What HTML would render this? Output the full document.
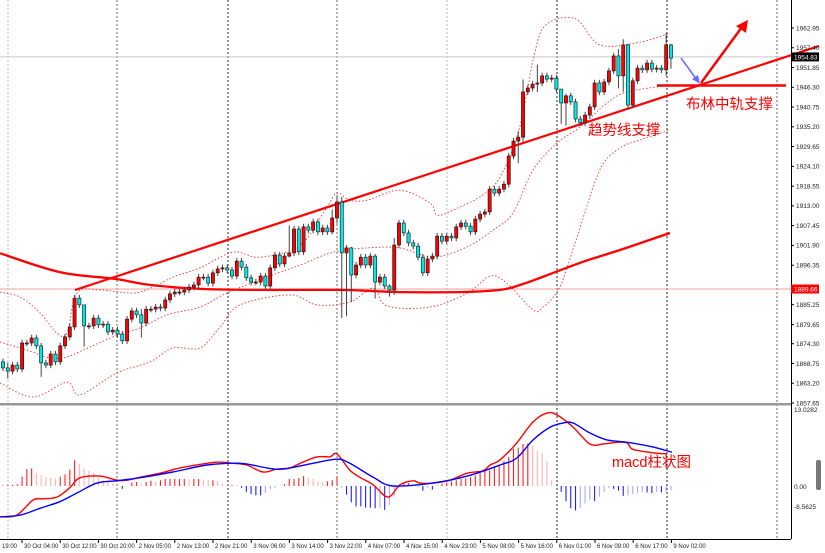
<!DOCTYPE html>
<html><head><meta charset="utf-8">
<style>
html,body{margin:0;padding:0;background:#fff;}
svg{display:block;font-family:"Liberation Sans","Noto Sans CJK SC",sans-serif;}
</style></head>
<body>
<svg id="chart" width="825" height="553" viewBox="0 0 825 553" xmlns="http://www.w3.org/2000/svg">
<rect x="0" y="0" width="825" height="553" fill="#fff"/>
</svg>
<script>
// ===== data =====
const closes = [1867.5,1866.6,1868.3,1867.2,1874.5,1874.5,1875.9,1873.7,1868.9,1868.3,1871.4,1869.2,1873.7,1876.2,1879.0,1887.1,1885.2,1879.3,1879.3,1881.5,1879.6,1879.8,1877.6,1878.1,1877.0,1875.1,1881.2,1883.5,1882.4,1880.1,1884.0,1884.0,1884.6,1884.3,1886.6,1888.3,1888.8,1888.8,1889.4,1890.2,1890.8,1893.0,1893.0,1891.3,1894.2,1895.3,1895.6,1895.0,1893.3,1897.5,1895.8,1892.8,1891.6,1891.6,1893.3,1890.5,1895.6,1899.2,1896.7,1898.9,1899.8,1906.5,1900.1,1907.1,1906.2,1908.5,1905.7,1906.8,1905.7,1909.6,1914.1,1899.8,1901.2,1893.6,1896.4,1898.6,1896.4,1898.9,1891.6,1893.0,1890.5,1889.4,1902.0,1908.2,1905.4,1902.6,1901.7,1898.6,1894.2,1898.1,1898.9,1904.5,1903.1,1904.5,1904.0,1907.1,1908.2,1907.3,1905.7,1909.3,1910.7,1911.3,1917.7,1916.6,1917.7,1919.1,1927.0,1931.2,1932.3,1945.0,1946.1,1947.2,1947.5,1949.5,1948.6,1948.9,1945.8,1941.9,1943.9,1942.2,1937.4,1936.3,1938.5,1940.8,1947.5,1945.0,1947.8,1950.9,1955.1,1949.5,1958.2,1941.3,1948.1,1951.7,1951.2,1953.1,1951.4,1951.7,1951.2,1958.2,1954.5];
const firstOpen = 1869.2;
// wick overrides: [barIndex, high, low]
const wickOverrides = [[1,1869,1864.5],[8,1874.5,1865],[17,1881,1873.5],[29,1884,1876],[60,1907.5,1898.5],[69,1912,1905],[70,1916,1908],[71,1915.5,1881.5],[72,1902,1882],[73,1901.5,1886],[78,1899.5,1887],[81,1891,1887.5],[82,1904,1888],[108,1934,1925],[109,1948.5,1931],[112,1952.7,1945],[117,1944,1936],[118,1944.5,1935.5],[129,1957,1946],[130,1959.8,1945],[131,1958.5,1940],[139,1961.5,1949.5],[140,1958.5,1951.5]];
const histValues = [0.1,0.2,0.2,0.3,1.6,2.9,3.0,2.2,1.9,1.6,1.4,1.2,1.6,2.0,2.8,4.4,3.8,3.0,2.6,2.2,1.4,1.0,0.8,0.5,0.3,-0.5,0.1,0.6,0.7,0.4,0.7,0.9,0.8,1.0,1.2,1.2,1.2,1.2,1.2,1.1,1.2,1.2,1.1,1.0,1.0,0.8,0.4,0.2,0.2,0.1,-0.3,-1.0,-1.4,-1.6,-1.6,-1.2,-0.6,-0.3,0.1,0.3,1.2,1.2,1.4,1.7,1.3,1.2,0.8,0.6,0.8,1.0,1.7,-0.3,-1.5,-2.8,-3.5,-3.5,-3.7,-3.7,-3.8,-3.7,-4.1,-3.2,-1.8,-0.3,0.5,0.5,0.3,-0.2,-0.8,-0.3,-0.6,0.1,0.4,0.6,0.8,1.0,1.2,1.3,1.5,1.8,2.2,2.6,2.7,3.4,3.5,4.3,5.0,6.4,6.6,7.2,7.3,7.0,6.0,5.6,4.2,1.0,-0.1,-1.0,-2.6,-3.8,-4.2,-3.8,-3.0,-2.4,-2.6,-1.8,-1.0,-0.3,-0.5,-0.8,-1.7,-1.6,-1.4,-1.2,-1.1,-1.1,-1.2,-1.0,-1.1,-1.0,-0.8];
const upperIdx = [-0.6,3.6,7.8,11.3,13.4,15.5,20.3,27.2,31.4,35.6,41.3,48.2,53.9,62.3,67.9,70.0,72.7,76.3,83.2,89.5,91.0,94.3,100.6,104.2,107.7,109.8,111.1,113.6,119.9,125.1,133.5,139.8];
const upperVal = [1888.8,1887.4,1882.9,1877.3,1877.3,1888.5,1889.4,1888.5,1890.2,1893.0,1895.6,1900.0,1898.6,1902.0,1912.7,1916.6,1914.6,1914.6,1917.4,1913.8,1910.4,1911.8,1916.1,1921.1,1932.3,1944.7,1953.9,1963.6,1965.6,1958.2,1959.0,1961.5];
const midIdx = [-0.6,5.0,9.9,13.4,16.8,23.9,28.7,34.4,41.3,46.9,55.3,62.3,69.2,76.3,83.2,90.1,97.3,102.7,106.9,111.1,116.1,120.9,126.6,130.8,139.8];
const midVal = [1874.8,1872.5,1870.3,1870.6,1872.5,1876.7,1878.7,1882.4,1884.6,1888.5,1893.0,1896.4,1900.0,1901.2,1901.2,1898.6,1901.5,1906.2,1911.0,1923.1,1930.6,1935.1,1941.9,1945.0,1946.9];
const lowerIdx = [-0.6,6.3,13.4,16.1,23.9,30.8,35.6,41.3,45.5,49.7,60.2,65.8,72.7,77.6,80.5,89.5,97.3,102.1,105.6,111.1,113.2,116.7,120.3,125.1,129.3,133.5,139.8];
const lowerVal = [1863.3,1859.3,1863.5,1859.9,1866.1,1869.2,1873.1,1873.1,1879.0,1885.2,1888.0,1885.2,1886.0,1889.9,1884.9,1884.6,1888.5,1893.3,1891.3,1883.8,1884.6,1890.2,1904.2,1923.1,1929.2,1931.5,1934.3];
const maIdx = [-0.6,11.9,23.5,30.8,41.3,53.9,70.6,83.2,95.8,104.2,108.4,113.6,120.9,129.3,139.8];
const maVal = [1899.7,1894.4,1892.5,1890.8,1889.7,1889.4,1889.4,1888.8,1888.8,1889.4,1890.8,1893.3,1897.0,1900.6,1905.4];
const macdIdx = [-0.6,2.9,6.3,8.4,11.3,14.0,16.1,20.3,23.9,26.0,28.7,32.9,37.1,42.8,45.5,48.2,51.1,54.5,57.4,60.2,62.3,65.8,68.5,70.0,72.7,74.8,77.6,80.7,83.2,86.0,87.4,90.1,93.7,97.3,100.6,102.1,104.2,107.7,111.1,114.0,116.1,119.5,123.0,125.8,128.7,130.8,132.0,136.2,139.2];
const macdVal = [-5.3,-5.0,-2.4,-2.2,-1.9,-0.3,1.4,1.7,1.0,1.0,1.5,2.2,3.1,3.9,4.1,3.9,3.6,2.4,2.9,3.1,3.9,5.0,5.0,5.5,2.7,1.5,0.2,-1.9,0.2,0.9,0.5,0.5,1.0,2.2,2.6,3.6,4.5,7.4,11.0,12.5,12.2,10.1,7.2,7.2,7.5,7.4,6.3,5.7,5.5];
const signalIdx = [-0.6,3.6,7.8,11.9,15.5,19.7,23.9,29.3,35.6,42.8,49.7,55.3,58.7,65.0,70.0,72.7,77.6,81.7,90.1,97.3,104.2,107.7,111.1,114.7,117.4,119.5,123.0,126.6,130.8,136.2,140.2];
const signalVal = [-5.3,-5.0,-3.8,-2.7,-1.2,0.5,0.9,1.5,2.4,3.6,3.9,3.1,2.9,3.9,4.6,3.9,1.5,0.0,0.5,1.7,3.6,4.8,7.9,10.1,10.8,10.8,9.1,7.9,7.5,6.7,5.8];
const priceTicks = ["1962.95","1957.40","1951.85","1946.30","1940.75","1935.20","1929.65","1924.10","1918.55","1913.00","1907.45","1901.90","1896.35","1885.25","1879.65","1874.30","1868.75","1863.20","1857.65"];
const timeLabels = ["30 Oct 04:00","30 Oct 12:00","30 Oct 20:00","2 Nov 05:00","2 Nov 13:00","2 Nov 21:00","3 Nov 06:00","3 Nov 14:00","3 Nov 22:00","4 Nov 07:00","4 Nov 15:00","4 Nov 23:00","5 Nov 08:00","5 Nov 16:00","6 Nov 01:00","6 Nov 09:00","6 Nov 17:00","9 Nov 02:00"];
const currentPrice = 1954.83;
const markedPrice = 1889.66;

// ===== scales =====
const PMAX = 1962.95, PMIN = 1857.65, PY0 = 28, PY1 = 403;
function yP(p){ return PY0 + (PMAX - p) * (PY1 - PY0) / (PMAX - PMIN); }
function xI(i){ return 3 + i * 4.771; }
const MZ = 486, MS = 5.83;
function yM(v){ return MZ - v * MS; }

const svg = document.getElementById('chart');
const NS = 'http://www.w3.org/2000/svg';
function mk(tag, attrs, parent){
  const e = document.createElementNS(NS, tag);
  for (const k in attrs) e.setAttribute(k, attrs[k]);
  (parent || svg).appendChild(e);
  return e;
}
function smoothFrom(ix, vals, yf){
  const pts = ix.map((v,k)=>[xI(v), yf(vals[k])]);
  let d = 'M' + pts[0][0].toFixed(1) + ',' + pts[0][1].toFixed(1);
  for (let k=1;k<pts.length;k++){
    const p0 = pts[Math.max(0,k-2)], p1 = pts[k-1], p2 = pts[k], p3 = pts[Math.min(pts.length-1,k+1)];
    const c1x = p1[0] + (p2[0]-p0[0])/6, c1y = p1[1] + (p2[1]-p0[1])/6;
    const c2x = p2[0] - (p3[0]-p1[0])/6, c2y = p2[1] - (p3[1]-p1[1])/6;
    d += ' C' + c1x.toFixed(1)+','+c1y.toFixed(1)+' '+c2x.toFixed(1)+','+c2y.toFixed(1)+' '+p2[0].toFixed(1)+','+p2[1].toFixed(1);
  }
  return d;
}

// ===== grid =====
const gridG = mk('g', {});


[[8,'#bbb'],[117,'#666'],[228,'#222'],[337,'#666'],[447,'#bbb'],[557,'#222'],[667,'#222'],[777,'#666']].forEach(g=>{
  const l = mk('line', {x1:g[0], y1:0, x2:g[0], y2:539, stroke:g[1], 'stroke-width':1, 'stroke-dasharray':'2,2'}, gridG);
  
  
});

const sep = mk('rect', {x:0, y:403, width:791, height:2.5, fill:'#999'});


const yAxisLine = mk('line', {x1:791.5, y1:0, x2:791.5, y2:539, stroke:'#000', 'stroke-width':1});


const xAxisLine = mk('line', {x1:0, y1:539.5, x2:791, y2:539.5, stroke:'#000', 'stroke-width':1});



const curLine = mk('line', {x1:0, y1:yP(currentPrice), x2:791, y2:yP(currentPrice), stroke:'#c8c8c8', 'stroke-width':1});


const markLine = mk('line', {x1:0, y1:yP(markedPrice), x2:791, y2:yP(markedPrice), stroke:'#f4a0a0', 'stroke-width':1});



[[upperIdx,upperVal,'bollinger-upper'],[midIdx,midVal,'bollinger-middle'],[lowerIdx,lowerVal,'bollinger-lower']].forEach(b=>{
  const p = mk('path', {d:smoothFrom(b[0],b[1],yP), fill:'none', stroke:'#f03030', 'stroke-width':0.9, 'stroke-dasharray':'1.5,2'});
  
  
});
const ma = mk('path', {d:smoothFrom(maIdx,maVal,yP), fill:'none', stroke:'#f00', 'stroke-width':2.3});



const trend = mk('line', {x1:75, y1:290, x2:819, y2:46, stroke:'#f00', 'stroke-width':2.2});



const candleG = mk('g', {});


closes.forEach((c,i)=>{
  const o = i ? closes[i-1] : firstOpen;
  let hi = Math.max(o,c) + 0.9, lo = Math.min(o,c) - 0.9;
  const ov = wickOverrides.find(w=>w[0]===i);
  if (ov){ hi = ov[1]; lo = ov[2]; }
  const x = xI(i);
  const g = mk('g', {}, candleG);
  
  
  mk('line', {x1:x, y1:yP(hi), x2:x, y2:yP(lo), stroke:'#444', 'stroke-width':1}, g);
  const top = yP(Math.max(o,c)), bot = yP(Math.min(o,c));
  const up = c >= o;
  mk('rect', {x:x-1.6, y:top, width:3.2, height:Math.max(1, bot-top), fill: up ? '#ff0000' : '#00e8e8', stroke:'#111', 'stroke-width':0.6}, g);
});

const hline = mk('line', {x1:657, y1:85.5, x2:786, y2:85.5, stroke:'#f00', 'stroke-width':2.4});


const blueArrow = mk('g', {});


mk('line', {x1:681, y1:58, x2:697, y2:80, stroke:'#6a6aff', 'stroke-width':1.5}, blueArrow);
mk('polygon', {points:'700,84 692,79 698,75', fill:'#6a6aff'}, blueArrow);
const redArrow = mk('g', {});


mk('line', {x1:701, y1:83, x2:742, y2:27, stroke:'#f00', 'stroke-width':2.4}, redArrow);
mk('polygon', {points:'748,20 746,33 736,26', fill:'#f00'}, redArrow);

const t1 = mk('text', {x:686, y:109, 'font-size':14.5, fill:'#f00'});
t1.textContent = '布林中轨支撑';


const t2 = mk('text', {x:588, y:135, 'font-size':14.5, fill:'#f00'});
t2.textContent = '趋势线支撑';



const histG = mk('g', {});


histValues.forEach((v,i)=>{
  const prev = i ? histValues[i-1] : 0;
  const strong = Math.abs(v) >= Math.abs(prev);
  const col = v >= 0 ? (strong ? '#ff2020' : '#ffb0b0') : (strong ? '#2020ff' : '#a8a8ff');
  const x = xI(i);
  const b = mk('line', {x1:x, y1:yM(0), x2:x, y2:yM(v), stroke:col, 'stroke-width':1.1}, histG);
  
  
});
const macdLine = mk('path', {d:smoothFrom(macdIdx,macdVal,yM), fill:'none', stroke:'#f00', 'stroke-width':1.4});


const sigLine = mk('path', {d:smoothFrom(signalIdx,signalVal,yM), fill:'none', stroke:'#0000ff', 'stroke-width':1.4});


const t3 = mk('text', {x:612, y:467, 'font-size':14.5, fill:'#f00'});
t3.textContent = 'macd柱状图';



const yAxisG = mk('g', {'font-size':6.5, fill:'#222'});


priceTicks.forEach(t=>{
  const y = yP(parseFloat(t));
  mk('line', {x1:791, y1:y, x2:794, y2:y, stroke:'#000', 'stroke-width':1}, yAxisG);
  const tx = mk('text', {x:796, y:y+2.3}, yAxisG);
  tx.textContent = t;
  
  
});
[['13.0282',412],['0.00',489],['-8.5625',509]].forEach(m=>{
  const tx = mk('text', {x:794, y:m[1], 'font-size':6.5, fill:'#222'});
  tx.textContent = m[0];
  
  
});
const cb = mk('g', {});


mk('rect', {x:791, y:yP(currentPrice)-4.5, width:28, height:9, fill:'#000'}, cb);
const cbt = mk('text', {x:794, y:yP(currentPrice)+2.5, 'font-size':6.5, fill:'#fff'}, cb);
cbt.textContent = currentPrice.toFixed(2);
const mb = mk('g', {});


mk('rect', {x:791, y:yP(markedPrice)-4.5, width:28, height:9, fill:'#f00'}, mb);
const mbt = mk('text', {x:794, y:yP(markedPrice)+2.5, 'font-size':6.5, fill:'#fff'}, mb);
mbt.textContent = markedPrice.toFixed(2);
const sh = mk('rect', {x:816, y:460, width:5, height:30, rx:2, fill:'#777'});



const xAxisG = mk('g', {'font-size':6, fill:'#222'});


const t0 = mk('text', {x:2, y:548}, xAxisG);
t0.textContent = '19:00';


timeLabels.forEach((t,k)=>{
  const x = 22 + k * 38.2;
  mk('line', {x1:x, y1:539, x2:x, y2:543, stroke:'#000', 'stroke-width':1}, xAxisG);
  const tx = mk('text', {x:x+2, y:548}, xAxisG);
  tx.textContent = t;
  
  
});
</script>
</body></html>
